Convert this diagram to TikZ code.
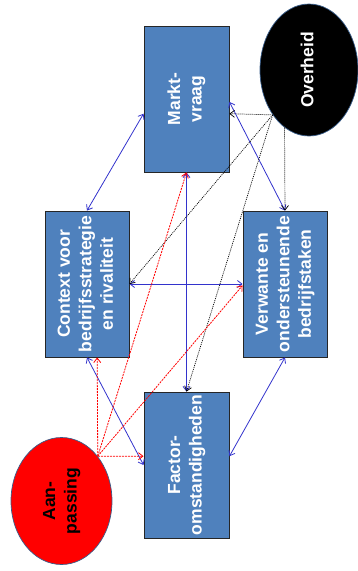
\documentclass[tikz,border=0pt]{standalone}
\usepackage{fontspec}
\setmainfont{Liberation Sans}
\usepackage{graphicx}
\usetikzlibrary{arrows.meta,calc,shapes.geometric}
\definecolor{boxblue}{RGB}{79,129,189}
\definecolor{lnblue}{RGB}{51,51,204}
\definecolor{rim}{RGB}{56,93,138}
\newcommand{\rtext}[1]{\rotatebox{90}{\begin{tabular}{@{}c@{}}#1\end{tabular}}}
\begin{document}
\begin{tikzpicture}[x=1pt,y=-1pt,
  box/.style={rectangle,draw=black!85,line width=0.9pt,fill=boxblue,
    minimum width=85pt,minimum height=146pt,inner sep=0pt,text=white,
    font=\fontsize{17.5}{21.5}\selectfont\bfseries},
  oval/.style={ellipse,draw=rim,line width=0.7pt,inner sep=0pt,
    font=\fontsize{17.5}{21.5}\selectfont\bfseries},
  tip/.style={Straight Barb[length=4.5pt,width=7pt]},
  blink/.style={draw=lnblue,line width=0.8pt,{Straight Barb[length=4.5pt,width=7pt]}-{Straight Barb[length=4.5pt,width=7pt]}},
  rlink/.style={draw=red,line width=0.8pt,dash pattern=on 2pt off 1pt,-{Straight Barb[length=4.5pt,width=7pt]}},
  klink/.style={draw=black,line width=0.7pt,dash pattern=on 1pt off 1pt,-{Straight Barb[length=4.5pt,width=7pt]}}]
\useasboundingbox (0,0) rectangle (358,571);

\node[box] (markt) at (186.5,99) {\rtext{Markt-\\vraag}};
\node[box,minimum width=84pt] (context) at (87,284) {\rtext{Context voor\\bedrijfsstrategie\\en rivaliteit}};
\node[box,minimum width=84pt] (verwante) at (285,284) {\rtext{Verwante en\\ondersteunende\\bedrijfstaken}};
\node[box] (factor) at (186.5,465) {\rtext{Factor-\\omstandigheden}};
\node[oval,fill=black,text=white,minimum width=98pt,minimum height=132pt] (overheid) at (309,70) {\rtext{Overheid}};
\node[oval,fill=red,text=black,minimum width=101pt,minimum height=127pt] (aan) at (61.5,501) {\rtext{Aan-\\passing}};

% blue double arrows
\draw[blink] ($(markt.north west)!0.6!(markt.south west)$) -- (context.north);
\draw[blink] ($(markt.north east)!0.52!(markt.south east)$) -- (verwante.north);
\draw[blink] (markt.south) -- (factor.north);
\draw[blink] (context.east) -- (verwante.west);
\draw[blink] (context.south) -- (factor.west);
\draw[blink] (verwante.south) -- ($(factor.north east)!0.44!(factor.south east)$);

% black dotted from Overheid
\draw[klink] (overheid.231) -- ($(markt.north east)!0.6!(markt.south east)$);
\draw[klink] (overheid.231) -- (context.east);
\draw[klink] (overheid.231) -- (factor.north);
\draw[klink] (overheid.247) -- (verwante.north);

% red dashed from Aanpassing
\draw[rlink] (aan.51) -- ($(factor.north west)!0.44!(factor.south west)$);
\draw[rlink] (aan.51) -- ($(context.south west)!0.62!(context.south east)$);
\draw[rlink] (aan.51) -- (markt.south);
\draw[rlink] (aan.51) -- ($(verwante.north west)!0.51!(verwante.south west)$);
\end{tikzpicture}
\end{document}
